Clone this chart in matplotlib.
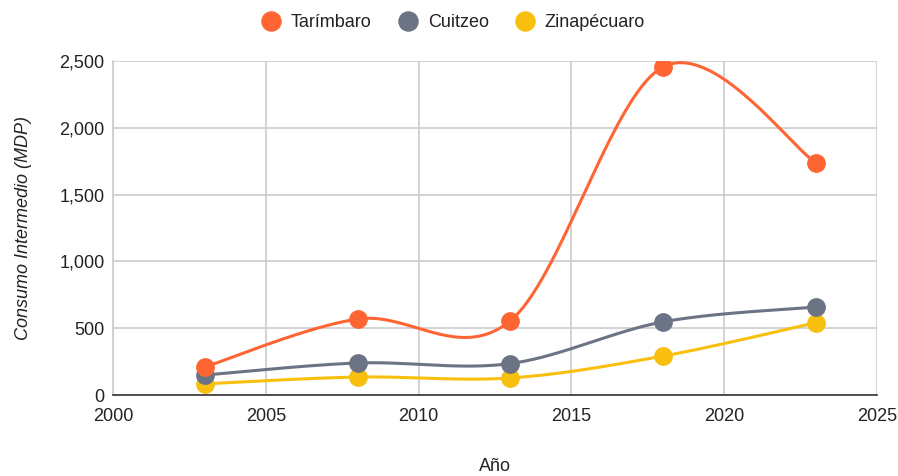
import numpy as np
import matplotlib.pyplot as plt

plt.rcParams['font.family'] = ['Liberation Sans', 'DejaVu Sans']

years = [2003, 2008, 2013, 2018, 2023]
tarimbaro = [210, 569, 556, 2456, 1737]
cuitzeo = [150, 240, 236, 548, 659]
zinapecuaro = [84, 135, 128, 292, 542]

names = ['Tarímbaro', 'Cuitzeo', 'Zinapécuaro']
colors = ['#ff6433', '#6b7385', '#f9bf0f']


def smooth(x, y, n=40, k=0.5):
    # catmull-rom style curve through the points
    x = np.asarray(x, float)
    y = np.asarray(y, float)
    px = np.concatenate([[x[0]], x, [x[-1]]])
    py = np.concatenate([[y[0]], y, [y[-1]]])
    xs, ys = [], []
    for i in range(1, len(px) - 2):
        p0 = np.array([px[i - 1], py[i - 1]])
        p1 = np.array([px[i], py[i]])
        p2 = np.array([px[i + 1], py[i + 1]])
        p3 = np.array([px[i + 2], py[i + 2]])
        m1 = k * (p2 - p0)
        m2 = k * (p3 - p1)
        t = np.linspace(0, 1, n)[:, None]
        h00 = 2 * t**3 - 3 * t**2 + 1
        h10 = t**3 - 2 * t**2 + t
        h01 = -2 * t**3 + 3 * t**2
        h11 = t**3 - t**2
        pts = h00 * p1 + h10 * m1 + h01 * p2 + h11 * m2
        xs.extend(pts[:, 0])
        ys.extend(pts[:, 1])
    return xs, ys


fig = plt.figure(figsize=(8.98, 4.76), dpi=100)
ax = fig.add_axes([0.1258, 0.170, 0.851, 0.702])

series = [tarimbaro, cuitzeo, zinapecuaro]
# draw back to front like the reference
for vals, c, name in reversed(list(zip(series, colors, names))):
    sx, sy = smooth(years, vals)
    ax.plot(sx, sy, color=c, lw=2.2, zorder=3, solid_capstyle='round')
    ax.plot(years, vals, 'o', color=c, ms=12.5, zorder=4, label=name)

ax.set_xlim(2000, 2025)
ax.set_ylim(0, 2500)
ax.set_xticks([2000, 2005, 2010, 2015, 2020, 2025])
ax.set_yticks([0, 500, 1000, 1500, 2000, 2500])
ax.set_yticklabels(['0', '500', '1,000', '1,500', '2,000', '2,500'])
ax.grid(True, color='#cccccc', lw=1.2)
ax.set_axisbelow(True)
for s in ['top', 'right']:
    ax.spines[s].set_visible(False)
ax.spines['left'].set_color('#cccccc')
ax.spines['left'].set_linewidth(1.2)
ax.spines['bottom'].set_color('#333333')
ax.spines['bottom'].set_linewidth(1.2)
ax.tick_params(length=0, labelsize=13, colors='#222222', pad=6)
ax.tick_params(axis='x', pad=9)
ax.set_xlabel('Año', fontsize=13, color='#222222', labelpad=24)
ax.set_ylabel('Consumo Intermedio (MDP)', fontsize=13, style='italic',
              color='#222222', labelpad=20)

handles, labels = ax.get_legend_handles_labels()
order = [labels.index(n) for n in names]
fig.legend([handles[i] for i in order], names, loc='upper center',
           bbox_to_anchor=(0.5, 1.005), ncol=3, frameon=False, fontsize=13,
           handletextpad=0.1, columnspacing=1.0, markerscale=1.1,
           labelcolor='#222222')

fig.savefig('out.png', dpi=100)
